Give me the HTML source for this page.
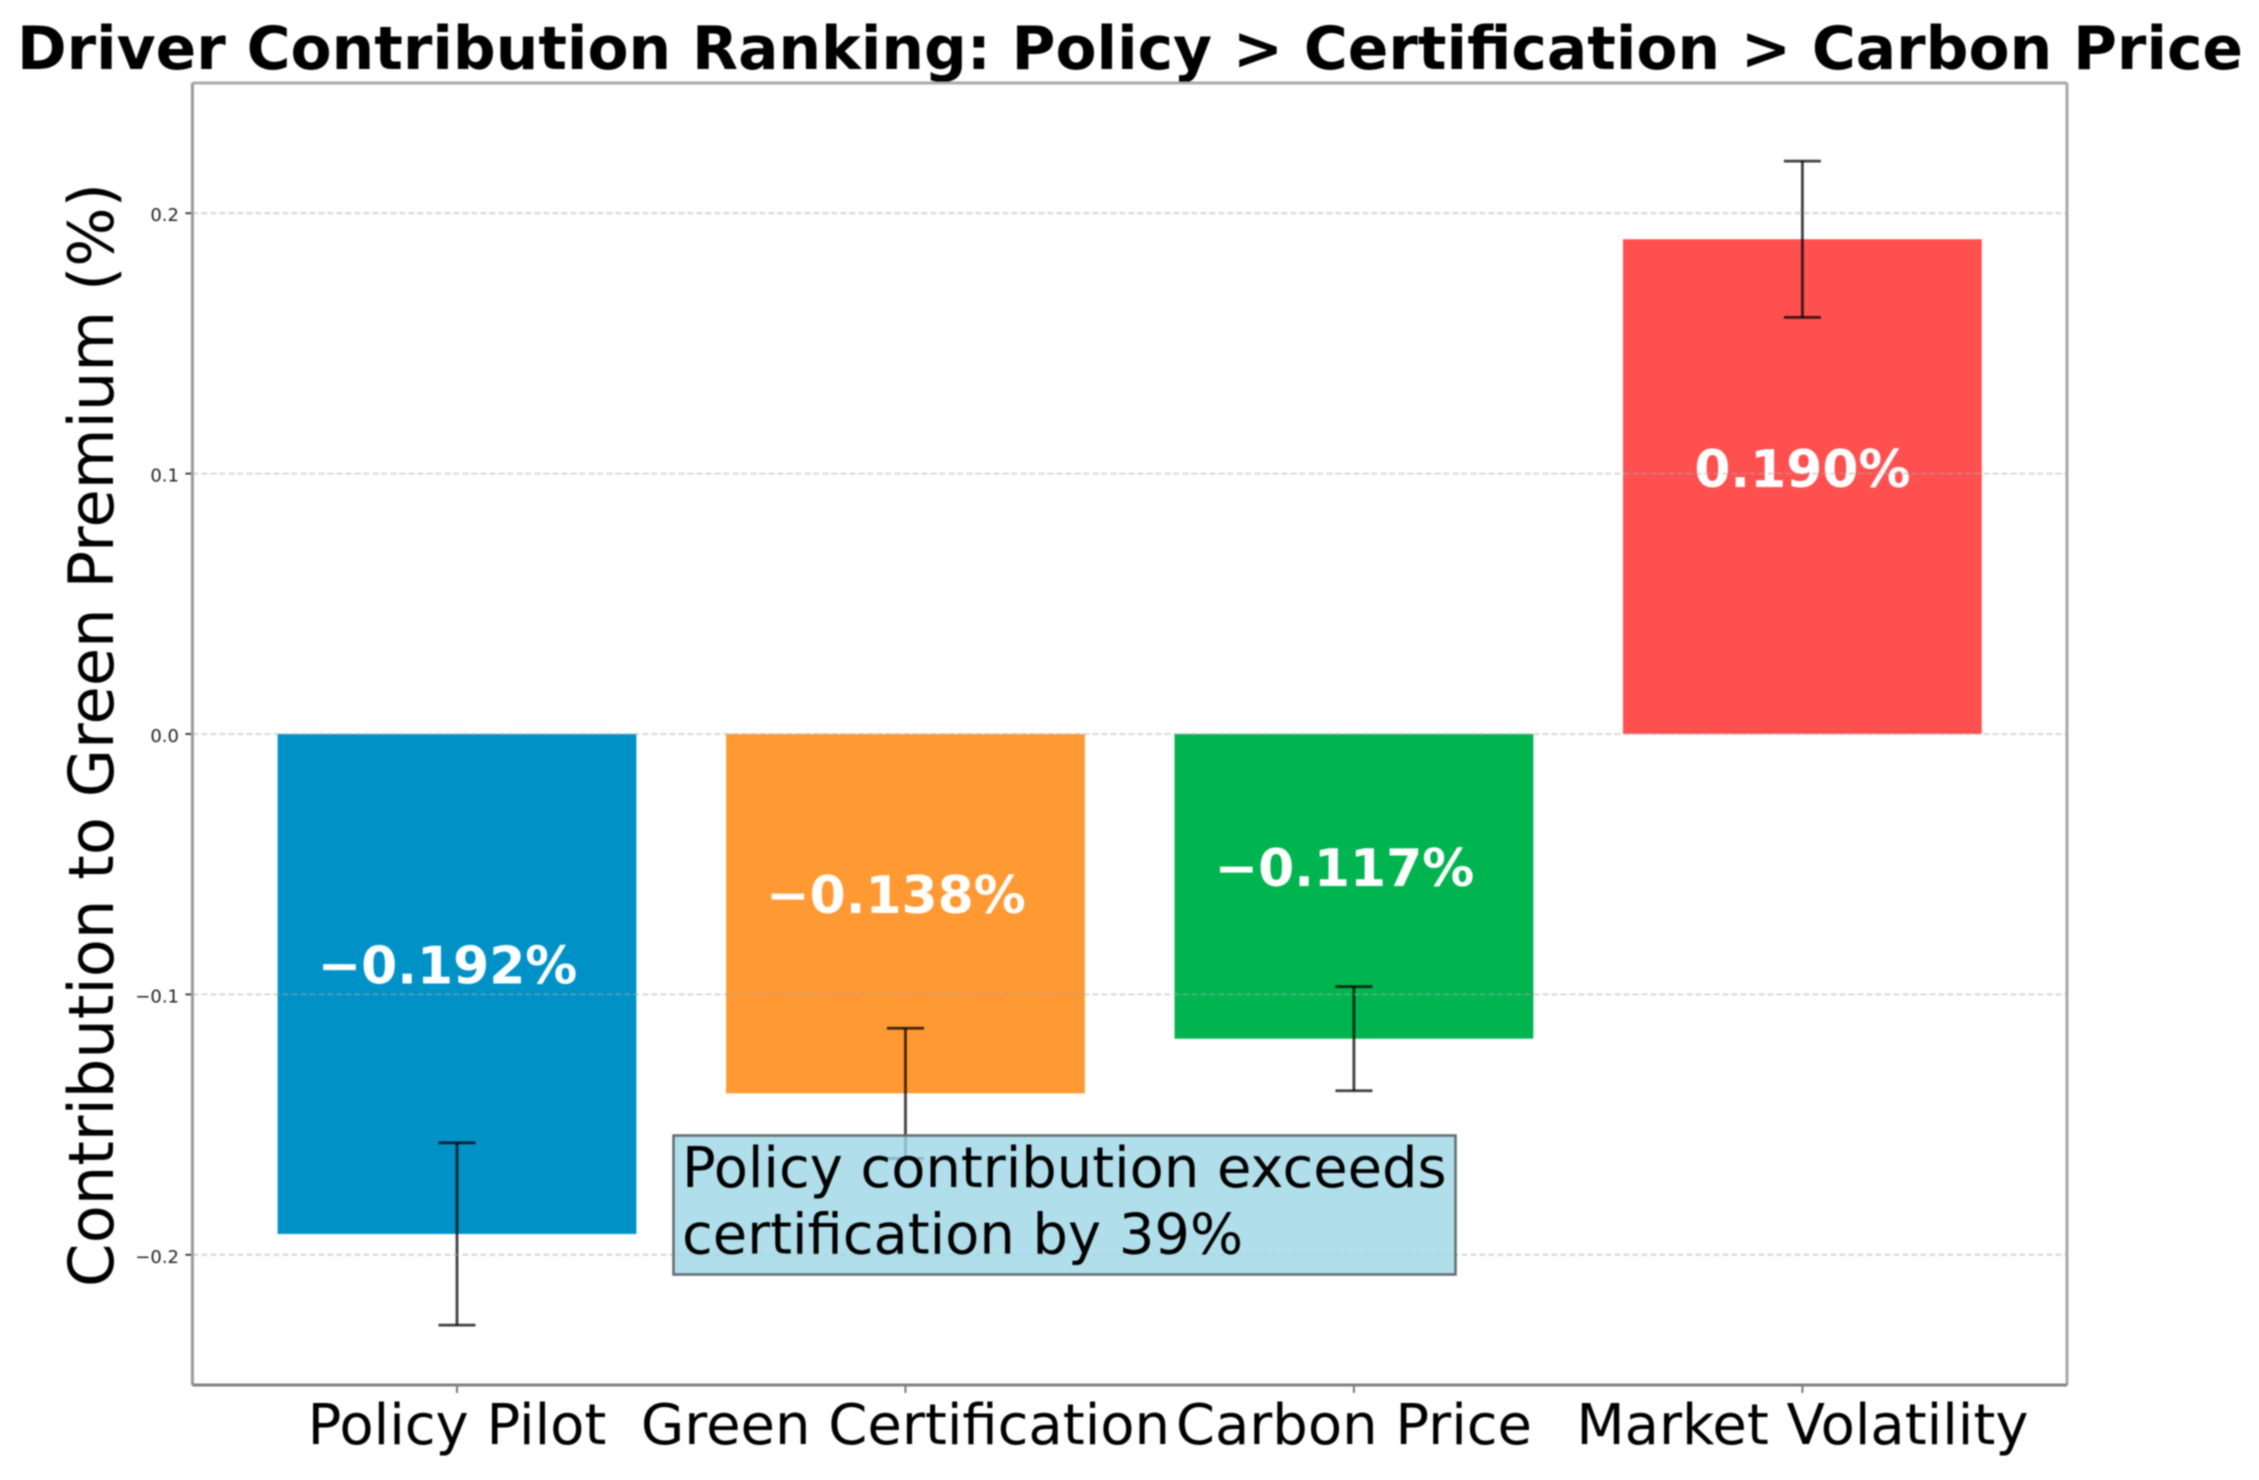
<!DOCTYPE html>
<html lang="en">
<head>
<meta charset="utf-8">
<title>Driver Contribution Ranking</title>
<style>
  html, body { margin: 0; padding: 0; background: #fff; }
  #chart { display: block; width: 2259px; height: 1480px; filter: blur(0.8px); }
  text { font-family: "DejaVu Sans", "Liberation Sans", sans-serif; }
</style>
</head>
<body>
<svg id="chart" xmlns="http://www.w3.org/2000/svg" width="2259" height="1480" viewBox="0 0 2259 1480">
  <rect x="0" y="0" width="2259" height="1480" fill="#ffffff"></rect>
  <text x="1130" y="69" text-anchor="middle" font-size="59.85" font-weight="700" fill="#000">Driver Contribution Ranking: Policy &gt; Certification &gt; Carbon Price</text>
  <text transform="translate(113 735) rotate(-90)" text-anchor="middle" font-size="62.4" fill="#000">Contribution to Green Premium (%)</text>
  <g id="bars"></g>
  <g id="errors"></g>
  <g id="bar-labels"></g>
  <g id="grid"></g>
  <g id="axes"></g>
  <g>
    <rect x="673.5" y="1135.5" width="782" height="139" fill="#9CD7E6" fill-opacity="0.8" stroke="#5f6b70" stroke-width="2.5"></rect>
    <text x="682" y="1187" font-size="55.9" fill="#000">Policy contribution exceeds</text>
    <text x="682" y="1253.5" font-size="55.9" fill="#000">certification by 39%</text>
  </g>
</svg>
<script>
const categories = ["Policy Pilot", "Green Certification", "Carbon Price", "Market Volatility"];
const contributions = [-0.192, -0.138, -0.117, 0.190];
const errorMargins = [0.035, 0.025, 0.02, 0.03];
const barColors = ["#0092C7", "#FF9933", "#00B44F", "#FF5050"];
const yTicks = [-0.2, -0.1, 0.0, 0.1, 0.2];
const yTickLabels = ["\u22120.2", "\u22120.1", "0.0", "0.1", "0.2"];
const xDomain = [-0.59, 3.59];
const yDomain = [-0.25, 0.25];

const plot = { left: 192.4, right: 2067, top: 83, bottom: 1385 };
const barWidth = 0.8;
const capHalfWidth = 18.5;
const NS = "http://www.w3.org/2000/svg";

function xScale(v) {
  return plot.left + (v - xDomain[0]) / (xDomain[1] - xDomain[0]) * (plot.right - plot.left);
}
function yScale(v) {
  return plot.bottom - (v - yDomain[0]) / (yDomain[1] - yDomain[0]) * (plot.bottom - plot.top);
}
function make(tag, parent, attrs) {
  const el = document.createElementNS(NS, tag);
  for (const k in attrs) el.setAttribute(k, attrs[k]);
  parent.appendChild(el);
  return el;
}
function formatValue(v) {
  return (v < 0 ? "\u2212" : "") + Math.abs(v).toFixed(3) + "%";
}

const barsG = document.getElementById("bars");
const errorsG = document.getElementById("errors");
const labelsG = document.getElementById("bar-labels");
const gridG = document.getElementById("grid");
const axesG = document.getElementById("axes");

categories.forEach(function (cat, i) {
  const v = contributions[i];
  const x0 = xScale(i - barWidth / 2);
  const x1 = xScale(i + barWidth / 2);
  const yA = yScale(Math.max(v, 0));
  const yB = yScale(Math.min(v, 0));
  const bar = make("rect", barsG, { x: x0, y: yA, width: x1 - x0, height: yB - yA, fill: barColors[i] });
  
  

  const cx = xScale(i);
  const errTop = yScale(v + errorMargins[i]);
  const errBottom = yScale(v - errorMargins[i]);
  const stem = make("line", errorsG, { x1: cx, x2: cx, y1: errTop, y2: errBottom, stroke: "#000", "stroke-opacity": 0.75, "stroke-width": 2.8 });
  
  
  [errTop, errBottom].forEach(function (y) {
    const cap = make("line", errorsG, { x1: cx - capHalfWidth, x2: cx + capHalfWidth, y1: y, y2: y, stroke: "#000", "stroke-opacity": 0.75, "stroke-width": 2.8 });
    
    
  });

  const label = make("text", labelsG, {
    x: cx + (v < 0 ? -9.5 : 0),
    y: yScale(v / 2) + (v < 0 ? -0.5 : 0.5),
    "text-anchor": "middle",
    "font-size": 51.9,
    "font-weight": 700,
    fill: "#fff"
  });
  label.textContent = formatValue(v);
  
  

  const tick = make("line", axesG, { x1: cx, x2: cx, y1: plot.bottom, y2: plot.bottom + 8, stroke: "#777", "stroke-width": 2 });
  
  
  const tickLabel = make("text", axesG, { x: cx, y: 1444, "text-anchor": "middle", "font-size": 56, fill: "#000" });
  tickLabel.textContent = cat;
  
  
});

yTicks.forEach(function (t, i) {
  const y = yScale(t);
  const gridLine = make("line", gridG, { x1: plot.left, x2: plot.right, y1: y, y2: y, stroke: "#aaaaaa", "stroke-opacity": 0.5, "stroke-width": 1.8, "stroke-dasharray": "6 3" });
  
  
  const tick = make("line", axesG, { x1: plot.left - 7, x2: plot.left, y1: y, y2: y, stroke: "#333", "stroke-width": 1.8 });
  
  
  const tickLabel = make("text", axesG, { x: 179, y: y + 8, "text-anchor": "end", "font-size": 18, fill: "#222" });
  tickLabel.textContent = yTickLabels[i];
  
  
});

const spineLeft = make("line", axesG, { x1: plot.left, x2: plot.left, y1: plot.top, y2: plot.bottom, stroke: "#999", "stroke-width": 3 });


const spineRight = make("line", axesG, { x1: plot.right, x2: plot.right, y1: plot.top, y2: plot.bottom, stroke: "#a8a8a8", "stroke-width": 3 });


const spineTop = make("line", axesG, { x1: plot.left, x2: plot.right, y1: plot.top, y2: plot.top, stroke: "#aaa", "stroke-width": 3 });


const spineBottom = make("line", axesG, { x1: plot.left, x2: plot.right, y1: plot.bottom, y2: plot.bottom, stroke: "#808080", "stroke-width": 3 });


</script>
</body>
</html>
